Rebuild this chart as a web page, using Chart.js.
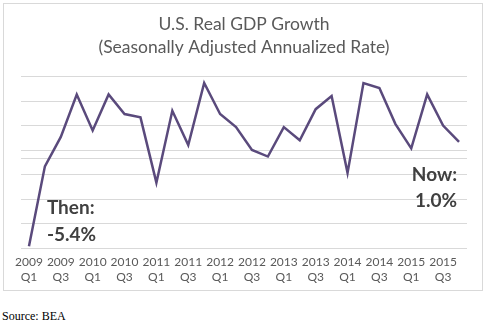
<!DOCTYPE html>
<html>
<head>
<meta charset="utf-8">
<script src="https://cdn.jsdelivr.net/npm/chart.js@4"></script>
<style>
  body { margin: 0; background: #fff; }
  #caja { position: absolute; left: 3px; top: 3px; width: 478px; height: 286px; border: 1px solid #d9d9d9; }
  #fuente { position: absolute; left: 2px; top: 310px; font: 12px "Liberation Serif", serif; line-height: 12px; color: #000; }
</style>
</head>
<body>
<div id="caja"><canvas id="grafico" width="478" height="286"></canvas></div>
<div id="fuente">Source: BEA</div>
<script>
// Datos: PIB real EE.UU., variación trimestral anualizada
const anios = ['2009','2009','2009','2009','2010','2010','2010','2010','2011','2011','2011','2011',
  '2012','2012','2012','2012','2013','2013','2013','2013','2014','2014','2014','2014','2015','2015','2015','2015'];
const trimestres = ['Q1','Q2','Q3','Q4','Q1','Q2','Q3','Q4','Q1','Q2','Q3','Q4',
  'Q1','Q2','Q3','Q4','Q1','Q2','Q3','Q4','Q1','Q2','Q3','Q4','Q1','Q2','Q3','Q4'];
const crecimiento = [-5.4, -0.5, 1.3, 3.9, 1.7, 3.9, 2.7, 2.5, -1.5, 2.9, 0.8, 4.6,
  2.7, 1.9, 0.5, 0.1, 1.9, 1.1, 3.0, 3.8, -0.9, 4.6, 4.3, 2.1, 0.6, 3.9, 2.0, 1.0];
const titulo = ['U.S. Real GDP Growth', '(Seasonally Adjusted Annualized Rate)'];
const notaInicio = ['Then:', '-5.4%'];
const notaFin = ['Now:', '1.0%'];

const etiquetas = anios.map((a, i) => a + ' ' + trimestres[i]);

// Notas "Then" / "Now" ancladas a la escala
const notasPlugin = {
  id: 'notas',
  afterDatasetsDraw(chart) {
    const { ctx, scales: { x, y } } = chart;
    ctx.save();
    ctx.font = 'bold 19px Lato';
    ctx.fillStyle = '#404040';
    ctx.textBaseline = 'middle';
    ctx.textAlign = 'left';
    const x0 = x.getPixelForValue(1) + 2;
    ctx.fillText(notaInicio[0], x0, y.getPixelForValue(-3.05));
    ctx.fillText(notaInicio[1], x0, y.getPixelForValue(-4.7));
    ctx.textAlign = 'right';
    const x1 = x.getPixelForValue(crecimiento.length - 1) - 2;
    ctx.fillText(notaFin[0], x1, y.getPixelForValue(-1.05));
    ctx.fillText(notaFin[1], x1, y.getPixelForValue(-2.6));
    ctx.restore();
  }
};

new Chart(document.getElementById('grafico'), {
  type: 'line',
  data: {
    labels: etiquetas,
    datasets: [{
      data: crecimiento,
      borderColor: '#5a4a7c',
      borderWidth: 2.5,
      pointRadius: 0,
      tension: 0,
      fill: false
    }]
  },
  options: {
    responsive: false,
    animation: false,
    layout: { padding: { left: 17, right: 15, top: 0, bottom: 0 } },
    plugins: {
      legend: { display: false },
      tooltip: { enabled: false },
      title: {
        display: true,
        text: titulo,
        color: '#595959',
        font: { family: 'Lato', size: 17.5, weight: 'normal', lineHeight: 1.3 },
        padding: { top: 9, bottom: 18 }
      }
    },
    scales: {
      x: {
        offset: true,
        grid: { display: false, drawTicks: false },
        border: { display: false },
        afterFit: (s) => { s.height = 42; },
        ticks: {
          autoSkip: false,
          maxRotation: 0,
          color: '#595959',
          font: { family: 'Lato', size: 12, lineHeight: 1.25 },
          padding: 7,
          callback: (v, i) => (i % 2 === 0 ? [anios[i], trimestres[i]] : '')
        }
      },
      y: {
        min: -5.5,
        max: 5,
        ticks: { display: false, stepSize: 1.5 },
        afterBuildTicks: (s) => {
          s.ticks.push({ value: 0 });
          s.ticks.sort((a, b) => a.value - b.value);
        },
        grid: { color: '#d9d9d9', drawTicks: false },
        border: { display: false }
      }
    }
  },
  plugins: [notasPlugin]
});
</script>
</body>
</html>
